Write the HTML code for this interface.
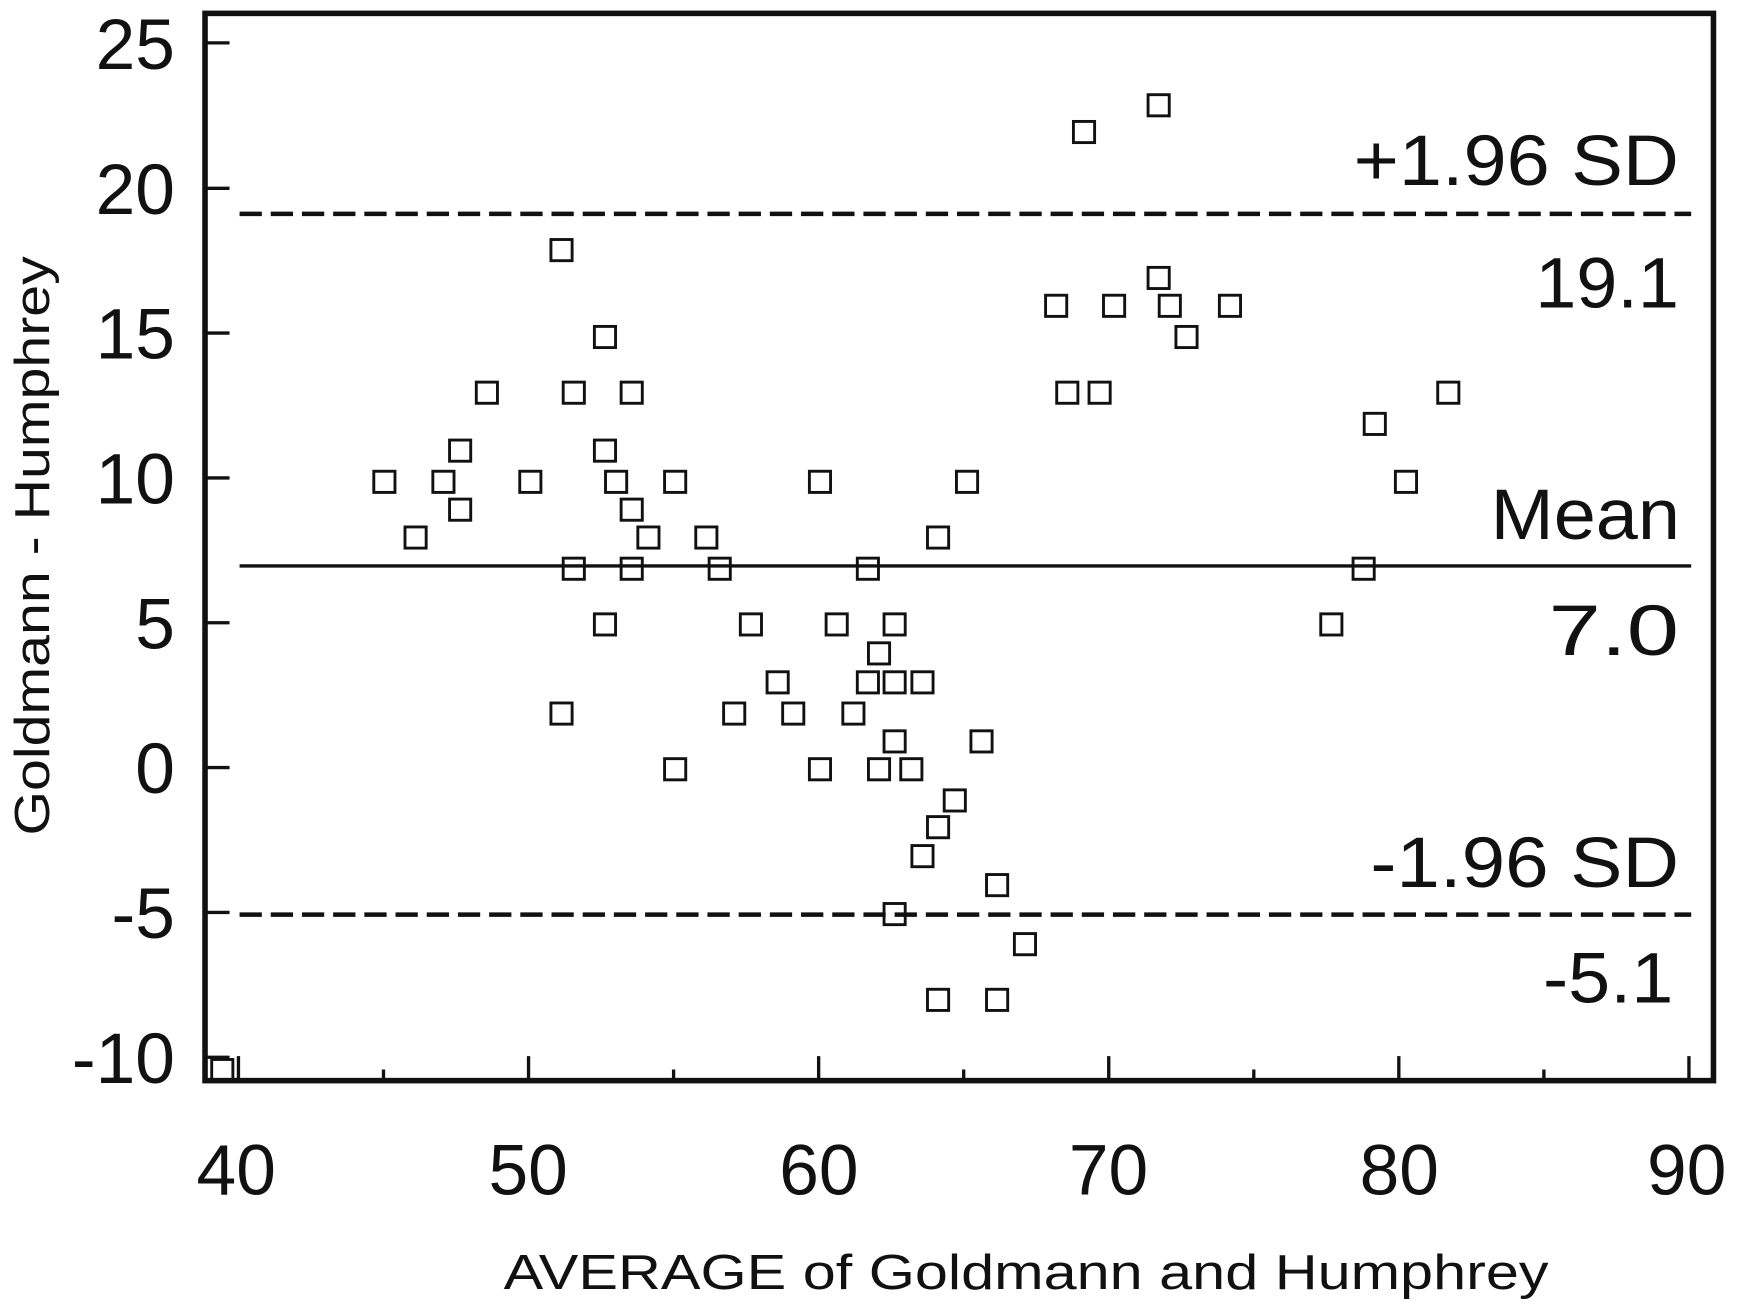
<!DOCTYPE html>
<html><head><meta charset="utf-8"><style>html,body{margin:0;padding:0;background:#fff}svg{display:block}</style></head>
<body>
<svg width="1738" height="1304" viewBox="0 0 1560 1170.5" xmlns="http://www.w3.org/2000/svg" font-family="Liberation Sans, Arial, sans-serif">
<rect width="1560" height="1170.5" fill="#fff"/>
<g fill="none" stroke="#111" stroke-width="2.6">
<rect x="190" y="951" width="19" height="19"/>
</g>
<g stroke="#111" stroke-width="3">
<line x1="184" y1="38.5" x2="206" y2="38.5"/>
<line x1="184" y1="169" x2="206" y2="169"/>
<line x1="184" y1="299" x2="206" y2="299"/>
<line x1="184" y1="429" x2="206" y2="429"/>
<line x1="184" y1="559" x2="206" y2="559"/>
<line x1="184" y1="689" x2="206" y2="689"/>
<line x1="184" y1="819" x2="206" y2="819"/>
<line x1="184" y1="949" x2="206" y2="949"/>
<line x1="214" y1="970" x2="214" y2="948"/>
<line x1="474.4" y1="970" x2="474.4" y2="948"/>
<line x1="734.8" y1="970" x2="734.8" y2="948"/>
<line x1="995.2" y1="970" x2="995.2" y2="948"/>
<line x1="1255.6" y1="970" x2="1255.6" y2="948"/>
<line x1="1516" y1="970" x2="1516" y2="948"/>
<line x1="344.2" y1="970" x2="344.2" y2="960"/>
<line x1="604.6" y1="970" x2="604.6" y2="960"/>
<line x1="865" y1="970" x2="865" y2="960"/>
<line x1="1125.4" y1="970" x2="1125.4" y2="960"/>
<line x1="1385.8" y1="970" x2="1385.8" y2="960"/>
</g>
<rect x="184" y="12" width="1354" height="958" fill="none" stroke="#111" stroke-width="5"/>
<g stroke="#111" stroke-width="4" stroke-dasharray="20 8">
<line x1="215" y1="192" x2="1518" y2="192"/>
<line x1="215" y1="821" x2="1518" y2="821"/>
</g>
<line x1="215" y1="508" x2="1518" y2="508" stroke="#111" stroke-width="3"/>
<g font-size="64" fill="#111" text-anchor="end">
<text x="157" y="62">25</text><text x="157" y="192">20</text><text x="157" y="322">15</text><text x="157" y="452">10</text>
<text x="157" y="582">5</text><text x="157" y="712">0</text><text x="157" y="842">-5</text><text x="157" y="972">-10</text>
</g>
<g font-size="64" fill="#111" text-anchor="middle">
<text x="212" y="1072">40</text><text x="474" y="1072">50</text><text x="735" y="1072">60</text>
<text x="995" y="1072">70</text><text x="1256" y="1072">80</text><text x="1514" y="1072">90</text>
</g>
<g font-size="64" fill="#111">
<text x="1215" y="166" textLength="292" lengthAdjust="spacingAndGlyphs">+1.96 SD</text>
<text x="1378" y="276" textLength="129" lengthAdjust="spacingAndGlyphs">19.1</text>
<text x="1338" y="484" textLength="170" lengthAdjust="spacingAndGlyphs">Mean</text>
<text x="1390" y="588" textLength="117" lengthAdjust="spacingAndGlyphs">7.0</text>
<text x="1230" y="796" textLength="277" lengthAdjust="spacingAndGlyphs">-1.96 SD</text>
<text x="1385" y="900" textLength="117" lengthAdjust="spacingAndGlyphs">-5.1</text>
</g>
<text x="452" y="1157" font-size="44" fill="#111" textLength="938" lengthAdjust="spacingAndGlyphs">AVERAGE of Goldmann and Humphrey</text>
<text transform="translate(44,750) rotate(-90)" font-size="44" fill="#111" textLength="520" lengthAdjust="spacingAndGlyphs">Goldmann - Humphrey</text>
<g fill="none" stroke="#111" stroke-width="2.6">
<rect x="335.5" y="423" width="19" height="19"/><rect x="363.5" y="473" width="19" height="19"/><rect x="388.5" y="423" width="19" height="19"/>
<rect x="403.5" y="395" width="19" height="19"/><rect x="403.5" y="448" width="19" height="19"/><rect x="427.5" y="343" width="19" height="19"/>
<rect x="466.5" y="423" width="19" height="19"/><rect x="494.5" y="215" width="19" height="19"/><rect x="494.5" y="631" width="19" height="19"/>
<rect x="505.5" y="343" width="19" height="19"/><rect x="505.5" y="501" width="19" height="19"/><rect x="533.5" y="293" width="19" height="19"/>
<rect x="533.5" y="395" width="19" height="19"/><rect x="533.5" y="551" width="19" height="19"/><rect x="543.5" y="423" width="19" height="19"/>
<rect x="557.5" y="343" width="19" height="19"/><rect x="557.5" y="448" width="19" height="19"/><rect x="557.5" y="501" width="19" height="19"/>
<rect x="572.5" y="473" width="19" height="19"/><rect x="596.5" y="423" width="19" height="19"/><rect x="596.5" y="681" width="19" height="19"/>
<rect x="624.5" y="473" width="19" height="19"/><rect x="636.5" y="501" width="19" height="19"/><rect x="664.5" y="551" width="19" height="19"/>
<rect x="649.5" y="631" width="19" height="19"/><rect x="688.5" y="603" width="19" height="19"/><rect x="702.5" y="631" width="19" height="19"/>
<rect x="726.5" y="423" width="19" height="19"/><rect x="726.5" y="681" width="19" height="19"/><rect x="741.5" y="551" width="19" height="19"/>
<rect x="756.5" y="631" width="19" height="19"/><rect x="769.5" y="501" width="19" height="19"/><rect x="769.5" y="603" width="19" height="19"/>
<rect x="779.5" y="577" width="19" height="19"/><rect x="793.5" y="551" width="19" height="19"/><rect x="793.5" y="603" width="19" height="19"/>
<rect x="793.5" y="656" width="19" height="19"/><rect x="779.5" y="681" width="19" height="19"/><rect x="808.5" y="681" width="19" height="19"/>
<rect x="818.5" y="603" width="19" height="19"/><rect x="832.5" y="473" width="19" height="19"/><rect x="832.5" y="733" width="19" height="19"/>
<rect x="847.5" y="709" width="19" height="19"/><rect x="818.5" y="759" width="19" height="19"/><rect x="858.5" y="423" width="19" height="19"/>
<rect x="871.5" y="656" width="19" height="19"/><rect x="793.5" y="811" width="19" height="19"/><rect x="885.5" y="785" width="19" height="19"/>
<rect x="910.5" y="838" width="19" height="19"/><rect x="832.5" y="888" width="19" height="19"/><rect x="885.5" y="888" width="19" height="19"/>
<rect x="938.5" y="265" width="19" height="19"/><rect x="948.5" y="343" width="19" height="19"/><rect x="963.5" y="109" width="19" height="19"/>
<rect x="977.5" y="343" width="19" height="19"/><rect x="990.5" y="265" width="19" height="19"/><rect x="1030.5" y="85" width="19" height="19"/>
<rect x="1030.5" y="240" width="19" height="19"/><rect x="1040.5" y="265" width="19" height="19"/><rect x="1055.5" y="293" width="19" height="19"/>
<rect x="1094.5" y="265" width="19" height="19"/><rect x="1185.5" y="551" width="19" height="19"/><rect x="1214.5" y="501" width="19" height="19"/>
<rect x="1224.5" y="371" width="19" height="19"/><rect x="1252.5" y="423" width="19" height="19"/><rect x="1290.5" y="343" width="19" height="19"/>
</g>
</svg>
</body></html>
